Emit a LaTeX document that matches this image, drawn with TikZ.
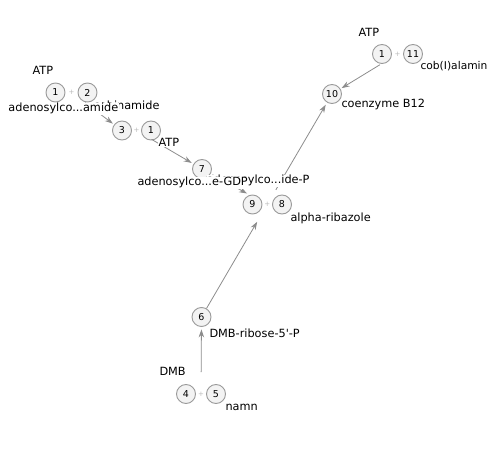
\documentclass[tikz,border=0pt]{standalone}
\usepackage{fontspec}
\setmainfont{DejaVu Sans}
\usetikzlibrary{arrows.meta}
\definecolor{edgegray}{HTML}{8C8C8C}
\definecolor{molfill}{HTML}{F3F3F3}
\definecolor{molline}{HTML}{9A9A9A}

\begin{document}
\begin{tikzpicture}[x=1pt,y=-1pt,
  mol/.style={circle,draw=molline,fill=molfill,line width=0.9pt,minimum size=19pt,inner sep=0pt,font=\fontsize{9.5}{9.5}\selectfont},
  plus/.style={text=gray!55,font=\fontsize{7}{7}\selectfont,inner sep=0pt},
  lbl/.style={fill=white,inner sep=0.3pt,font=\fontsize{11.3}{11.3}\selectfont},
  rxn/.style={draw=edgegray,line width=0.8pt,-{Stealth[length=8pt,width=5.5pt]}}]
\useasboundingbox (0,0) rectangle (490,449);

%reaction centres
\coordinate (pa) at (71.5,92.5);
\coordinate (pb) at (136.5,130.5);
\coordinate (pc) at (267.25,204.5);
\coordinate (pd) at (201,394);
\coordinate (pe) at (397.5,54);

%compounds
\node[mol] (atpa) at (55.5,92.5) {1};
\node[mol] (cbi) at (87.5,92.5) {2};
\node[mol] (adocbi) at (122,130.5) {3};
\node[mol] (atpb) at (151,130.5) {1};
\node[mol] (adocbigdp) at (202,169) {7};
\node[mol] (adocblp) at (252.5,204.5) {9};
\node[mol] (ribazole) at (282,204.5) {8};
\node[mol] (dmbrp) at (201.5,317) {6};
\node[mol] (dmb) at (186,394) {4};
\node[mol] (namn) at (216,394) {5};
\node[mol] (adocbl) at (332,94) {10};
\node[mol] (atpc) at (382,54) {1};
\node[mol] (cobalamin) at (413,54) {11};

%plus signs
\node[plus] (pluna) at (pa) {+};
\node[plus] (plunb) at (pb) {+};
\node[plus] (plunc) at (pc) {+};
\node[plus] (plund) at (pd) {+};
\node[plus] (plune) at (pe) {+};

%reactions
\draw[rxn, shorten <=17pt, shorten >=1.5pt] (pa) -- (adocbi);
\draw[rxn, shorten <=17.5pt, shorten >=2pt] (pb) -- (adocbigdp);
\draw[rxn, shorten <=2pt, shorten >=23pt] (adocbigdp) -- (pc);
\draw[rxn, shorten >=20pt] (dmbrp) -- (pc);
\draw[rxn, shorten <=22pt, shorten >=2.5pt] (pd) -- (dmbrp);
\draw[rxn, shorten <=17pt, shorten >=2.5pt] (pc) -- (adocbl);
\draw[rxn, shorten <=20.5pt, shorten >=1.3pt] (pe) -- (adocbl);

%names
\node[lbl,anchor=base east] (cbilbl) at (160,110) {cobinamide};
\node[lbl,anchor=base east] (adocbllbl) at (310,184) {adenosylco...ide-P};
\node[lbl,anchor=base west] (atpalbl) at (32,75) {ATP};
\node[lbl,anchor=base west] (adocbilbl) at (8,112) {adenosylco...amide};
\node[lbl,anchor=base west] (atpblbl) at (158,147) {ATP};
\node[lbl,anchor=base west] (gdplbl) at (137,186) {adenosylco...e-GDP};
\node[lbl,anchor=base west] (riblbl) at (290,222) {alpha-ribazole};
\node[lbl,anchor=base west] (b12lbl) at (341,108) {coenzyme B12};
\node[lbl,anchor=base west] (atpclbl) at (358,37) {ATP};
\node[lbl,anchor=base west,font=\fontsize{10.7}{10.7}\selectfont] (cobllbl) at (420,70) {cob(I)alamin};
\node[lbl,anchor=base west] (dmbrplbl) at (209,337) {DMB-ribose-5\textquotesingle-P};
\node[lbl,anchor=base west] (dmblbl) at (159,375) {DMB};
\node[lbl,anchor=base west] (namnlbl) at (225,410) {namn};

\end{tikzpicture}
\end{document}
